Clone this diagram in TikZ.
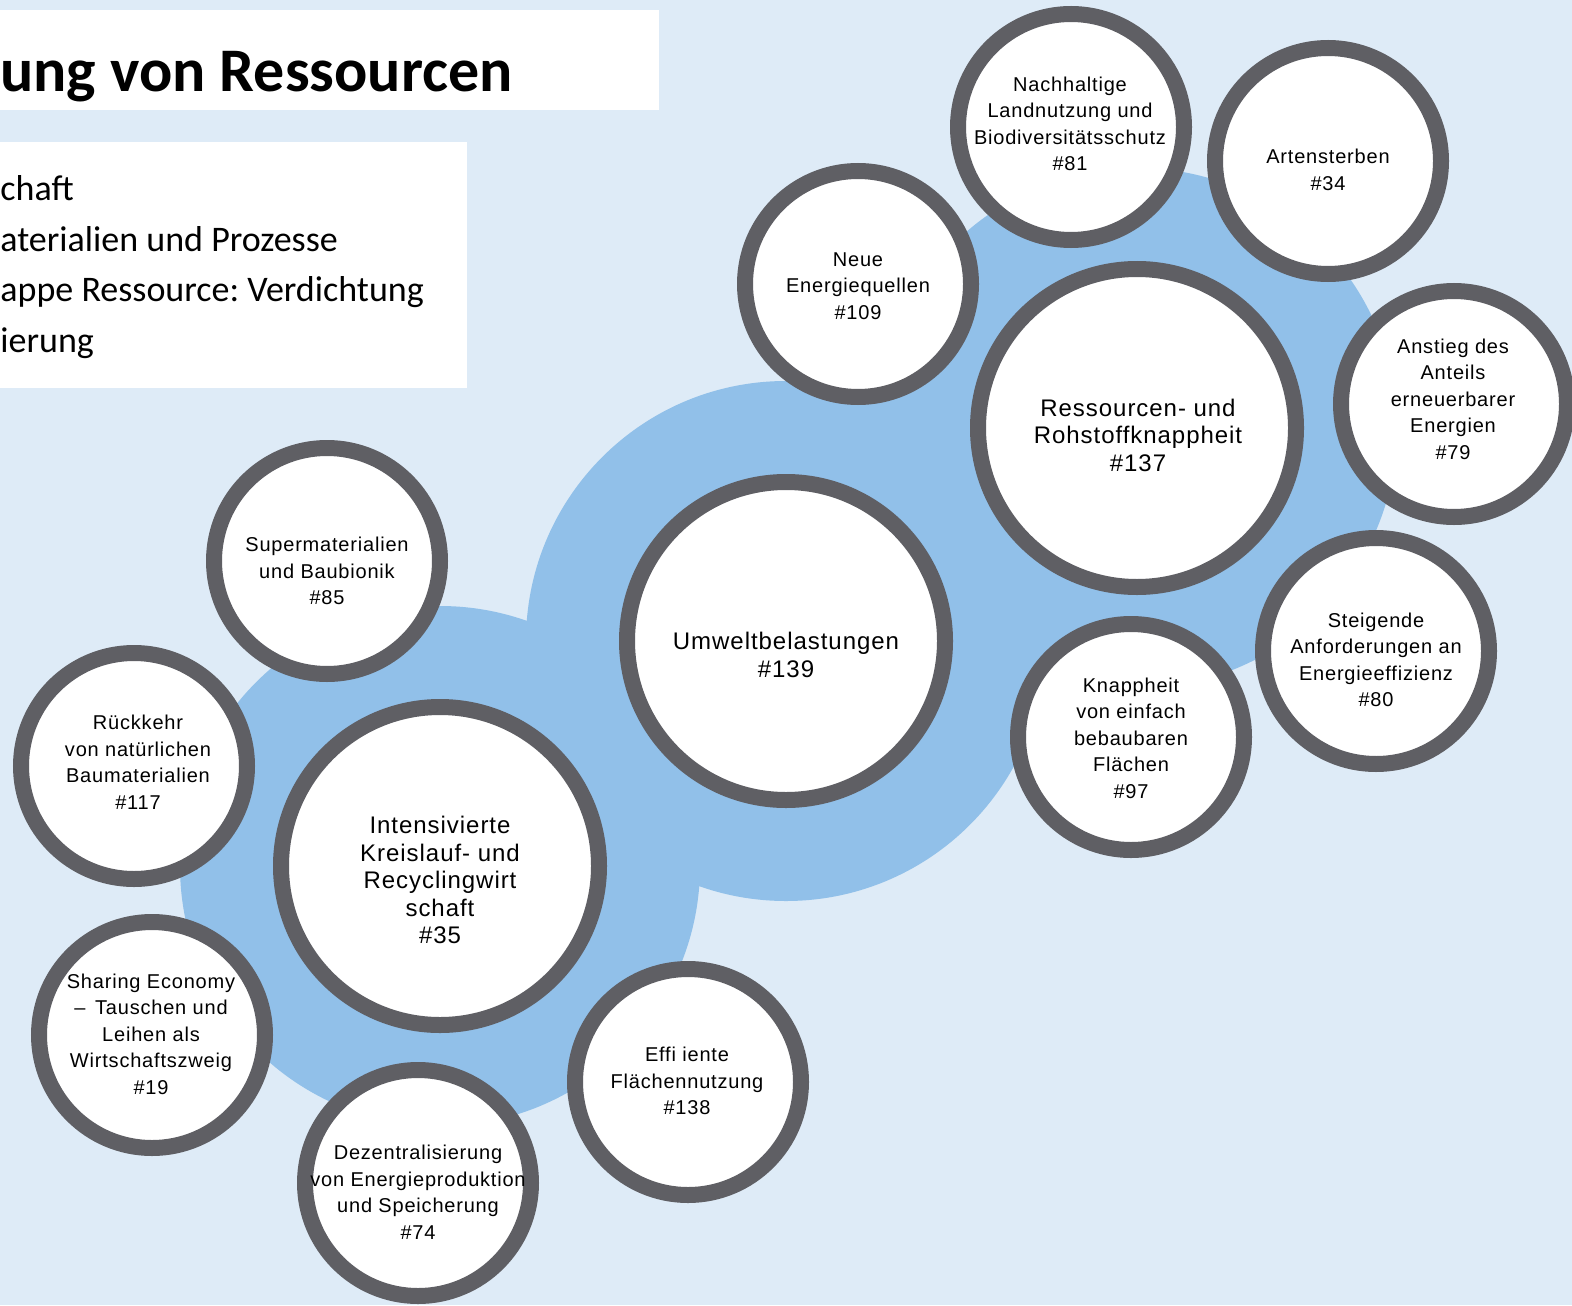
\documentclass[tikz,border=0pt]{standalone}
\usepackage{fontspec}
\setmainfont{Liberation Sans}[LetterSpace=4]
\newfontfamily\slidefont{Carlito}
\usepackage{tikz}
\frenchspacing
\definecolor{paper}{RGB}{222,235,247}
\definecolor{cloud}{RGB}{145,192,233}
\definecolor{rim}{RGB}{95,95,100}
\tikzset{
  topic/.style    = {shape=circle, draw=rim, fill=white, line width=8pt,
                     minimum size=113pt, inner sep=0pt},
  hub/.style      = {topic, minimum size=159pt},
  caption/.style  = {align=center, inner sep=0pt,
                     font=\fontsize{10}{13.25}\selectfont},
  bigcap/.style   = {caption, font=\fontsize{12}{13.75}\selectfont},
  headline/.style = {anchor=base west, inner sep=0pt,
                     font=\slidefont\bfseries\fontsize{31}{36}\selectfont},
  point/.style    = {anchor=base west, inner sep=0pt,
                     font=\slidefont\fontsize{18}{22}\selectfont}
}

\begin{document}
\begin{tikzpicture}[x=0.5pt, y=-0.5pt]
  \useasboundingbox (0,0) rectangle (1572,1305);
  \clip (0,0) rectangle (1572,1305);
  \fill[paper] (0,0) rectangle (1572,1305);

  % header panels
  \fill[white] (0,10) rectangle (659,110);
  \fill[white] (0,142) rectangle (467,388);
  \node[headline] (title) at (0,92) {ung von Ressourcen};
  \node[point] (p1) at (0,200) {chaft};
  \node[point] (p2) at (0,251) {aterialien und Prozesse};
  \node[point] (p3) at (0,301) {appe Ressource: Verdichtung};
  \node[point] (p4) at (0,352) {ierung};

  % blue cloud behind the three hubs
  \fill[cloud] (440,866) circle[radius=130pt]
               (786,641) circle[radius=130pt]
               (1137,428) circle[radius=130pt];

  % hubs
  \node[hub] (c139) at (786,641) {};
  \node[bigcap] (t139) at (786,655) {Umweltbelastungen\\\#139};
  \node[hub] (c137) at (1137,428) {};
  \node[bigcap] (t137) at (1138,435) {Ressourcen- und\\Rohstoffknappheit\\\#137};
  \node[hub] (c35) at (440,866) {};
  \node[bigcap] (t35) at (440,880) {Intensivierte\\Kreislauf- und\\Recyclingwirt\\schaft\\\#35};

  % topics around them
  \node[topic] (c81) at (1071,127) {};
  \node[caption] (t81) at (1070,124) {Nachhaltige\\Landnutzung und\\Biodiversitätsschutz\\\#81};
  \node[topic] (c34) at (1328,161) {};
  \node[caption] (t34) at (1328,170) {Artensterben\\\#34};
  \node[topic] (c109) at (858,284) {};
  \node[caption] (t109) at (858,286) {Neue\\Energiequellen\\\#109};
  \node[topic] (c79) at (1454,404) {};
  \node[caption] (t79) at (1453,399) {Anstieg des\\Anteils\\erneuerbarer\\Energien\\\#79};
  \node[topic] (c80) at (1376,651) {};
  \node[caption] (t80) at (1376,660) {Steigende\\Anforderungen an\\Energieeffizienz\\\#80};
  \node[topic] (c97) at (1131,737) {};
  \node[caption] (t97) at (1131,738) {Knappheit\\von einfach\\bebaubaren\\Flächen\\\#97};
  \node[topic] (c85) at (327,561) {};
  \node[caption] (t85) at (327,571) {Supermaterialien\\und Baubionik\\\#85};
  \node[topic] (c117) at (134,766) {};
  \node[caption] (t117) at (138,762) {Rückkehr\\von natürlichen\\Baumaterialien\\\#117};
  \node[topic] (c19) at (152,1035) {};
  \node[caption] (t19) at (151,1034) {Sharing Economy\\–\, Tauschen und\\Leihen als\\Wirtschaftszweig\\\#19};
  \node[topic] (c74) at (418,1183) {};
  \node[caption] (t74) at (418,1192) {Dezentralisierung\\von Energieproduktion\\und Speicherung\\\#74};
  \node[topic] (c138) at (688,1082) {};
  \node[caption] (t138) at (687,1081) {Effi iente\\Flächennutzung\\\#138};
\end{tikzpicture}
\end{document}
